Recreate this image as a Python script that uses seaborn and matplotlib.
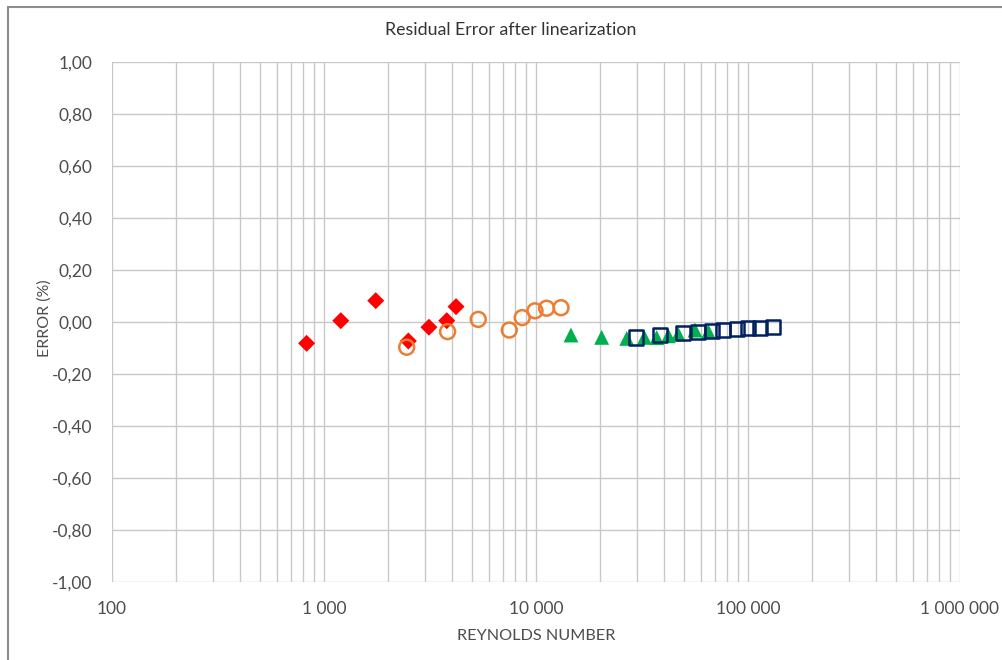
import numpy as np
import pandas as pd
import matplotlib
matplotlib.use("Agg")
import matplotlib.pyplot as plt
from matplotlib.ticker import FuncFormatter, LogLocator, FixedLocator, NullFormatter
from matplotlib.lines import Line2D
import seaborn as sns

# Measured residuals per meter range
re_red = [828, 1200, 1754, 2500, 3126, 3793, 4196]
err_red = [-0.082, 0.005, 0.082, -0.073, -0.020, 0.005, 0.059]

re_orange = [2455, 3828, 5340, 7480, 8610, 9890, 11220, 13120]
err_orange = [-0.097, -0.037, 0.010, -0.031, 0.017, 0.043, 0.053, 0.055]

re_green = [14620, 20400, 26800, 32450, 37090, 42090, 46900, 56200, 65000]
err_green = [-0.050, -0.059, -0.063, -0.059, -0.060, -0.053, -0.047, -0.031, -0.037]

re_navy = [29650, 38450, 49550, 58300, 67500, 76500, 88500, 100300, 113900, 131600]
err_navy = [-0.060, -0.050, -0.043, -0.037, -0.035, -0.031, -0.028, -0.024, -0.022, -0.018]

y_ticks = [-1.0, -0.8, -0.6, -0.4, -0.2, 0.0, 0.2, 0.4, 0.6, 0.8, 1.0]
x_ticks = [100, 1000, 10000, 100000, 1000000]

sns.set_theme(style="white")
plt.rcParams["font.family"] = ["Lato", "DejaVu Sans"]

fig = plt.figure(figsize=(10.03, 6.6), dpi=100)
ax = fig.add_axes([112 / 1003, 1 - 582 / 660, (960 - 112) / 1003, 520 / 660])

series = [
    (re_red, err_red, dict(marker="D", s=75, color="#FF0000", edgecolor="none", linewidth=0)),
    (re_orange, err_orange, dict(marker="o", s=115, color="#ED7D31", facecolor="none",
                                 edgecolor="#ED7D31", linewidth=1.8)),
    (re_green, err_green, dict(marker="^", s=115, color="#00B050", edgecolor="none", linewidth=0)),
    (re_navy, err_navy, dict(marker="s", s=105, color="#002060", facecolor="none",
                             edgecolor="#002060", linewidth=1.8)),
]
for xs, ys, kw in series:
    df = pd.DataFrame({"re": xs, "err": ys})
    sns.scatterplot(data=df, x="re", y="err", ax=ax, legend=False, zorder=3, **kw)

ax.set_xscale("log")
ax.set_xlim(100, 1000000)
ax.set_ylim(-1.0, 1.0)

ax.xaxis.set_major_locator(FixedLocator(x_ticks))
ax.xaxis.set_minor_locator(LogLocator(base=10, subs=np.arange(2, 10), numticks=20))
ax.xaxis.set_minor_formatter(NullFormatter())
ax.xaxis.set_major_formatter(FuncFormatter(lambda v, p: f"{int(round(v)):,}".replace(",", " ")))
ax.yaxis.set_major_locator(FixedLocator(y_ticks))
ax.yaxis.set_major_formatter(FuncFormatter(lambda v, p: f"{v:.2f}".replace(".", ",")))

ax.grid(True, which="major", axis="both", color="#C8C8C8", linewidth=1.0)
ax.grid(True, which="minor", axis="x", color="#C8C8C8", linewidth=1.0)
ax.set_axisbelow(True)
for sp in ax.spines.values():
    sp.set_visible(False)

ax.tick_params(axis="both", which="both", length=0, labelsize=12.5, labelcolor="#4D4D4D")
ax.tick_params(axis="x", pad=14)
ax.tick_params(axis="y", pad=14)

ax.set_xlabel("REYNOLDS NUMBER", fontsize=11.7, color="#4D4D4D", va="center")
ax.set_ylabel("ERROR (%)", fontsize=11.5, color="#4D4D4D", va="center")
ax.xaxis.set_label_coords(0.5, (582 - 636) / 520)
ax.yaxis.set_label_coords((45 - 112) / 848, (582 - 318) / 520)

fig.text(511 / 1003, 1 - 30 / 660, "Residual Error after linearization",
         ha="center", va="center", fontsize=12.8, color="#333333")

# chart frame (top and left edges)
fig.add_artist(Line2D([8 / 1003, 1.0], [1 - 6.5 / 660, 1 - 6.5 / 660],
                      transform=fig.transFigure, color="#8C8C8C", linewidth=1.5))
fig.add_artist(Line2D([8 / 1003, 8 / 1003], [0.0, 1 - 6.5 / 660],
                      transform=fig.transFigure, color="#8C8C8C", linewidth=1.5))

fig.savefig("out.png", dpi=100)
